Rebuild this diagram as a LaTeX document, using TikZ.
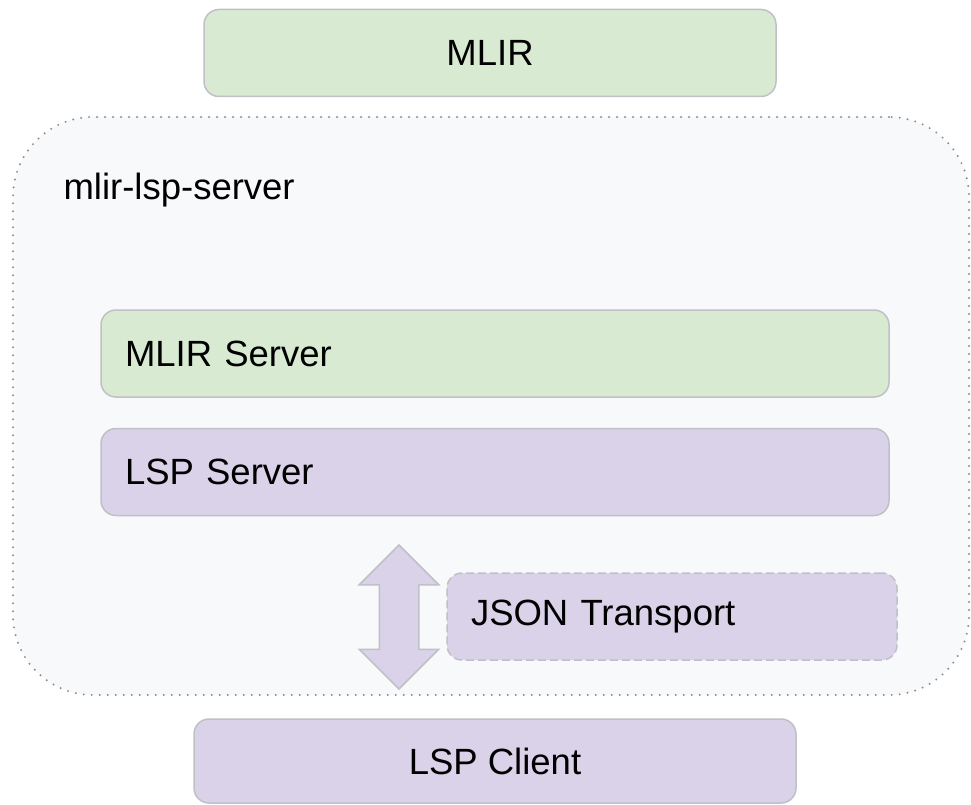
\documentclass[tikz,border=0pt]{standalone}
\usepackage{fontspec}
\setmainfont{Liberation Sans}
\definecolor{lspgreen}{HTML}{D9EAD3}
\definecolor{lsppurple}{HTML}{D9D2E9}
\definecolor{lspedge}{HTML}{C0C0C6}
\definecolor{lspback}{HTML}{F8F9FA}
\definecolor{lspdots}{HTML}{8E8E92}
\usetikzlibrary{arrows.meta,positioning,shapes.arrows}

\begin{document}
\begin{tikzpicture}[x=1pt,y=-1pt,
  lspbox/.style={draw=lspedge,line width=1.5pt,rounded corners=15pt,
    minimum height=87pt,inner xsep=24pt,font=\fontsize{36.5}{44}\selectfont},
  lspgroup/.style={draw=lspdots,fill=lspback,line width=2.2pt,line cap=round,
    dash pattern=on 0pt off 8pt,rounded corners=80pt},
  lsplink/.style={double arrow,draw=lspedge,fill=lsppurple,line width=1.5pt,
    shape border rotate=90,inner sep=19pt,minimum height=144pt,
    double arrow head extend=20pt}
]
  \useasboundingbox (0,0) rectangle (971,805);
  % outer server group
  \node[lspgroup,minimum width=956pt,minimum height=578pt] (srv) at (491,406) {};
  \node[anchor=base west,font=\fontsize{36.5}{44}\selectfont] (srvlabel) at (60,200) {mlir-lsp-server};
  % top: MLIR itself
  \node[lspbox,fill=lspgreen,minimum width=572pt] (mlir) at (490,53) {MLIR};
  % server layers
  \node[lspbox,fill=lspgreen,minimum width=788pt,text width=740pt,align=left] (mlirsrv) at (495,353.5) {MLIR Server};
  \node[lspbox,fill=lsppurple,minimum width=788pt,text width=740pt,align=left] (lspsrv) at (495,472) {LSP Server};
  % transport between server and client
  \node[lsplink] (xport) at (399,617) {};
  \node[lspbox,fill=lsppurple,dashed,dash pattern=on 8pt off 4pt,minimum width=450pt,
    text width=402pt,align=left] (json) at (672,616.5) {JSON Transport};
  % client
  \node[lspbox,fill=lsppurple,minimum width=602pt,minimum height=84pt] (client) at (495,761) {LSP Client};
\end{tikzpicture}
\end{document}
